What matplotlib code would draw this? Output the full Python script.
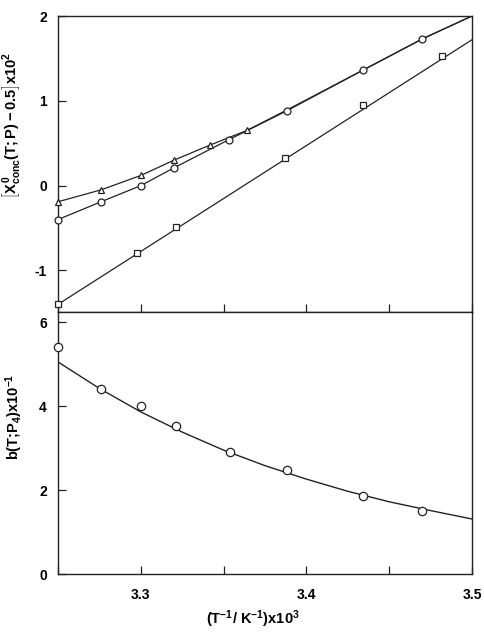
import numpy as np
import matplotlib.pyplot as plt

plt.rcParams['font.family'] = ['Liberation Sans', 'DejaVu Sans']
plt.rcParams['mathtext.fontset'] = 'custom'
plt.rcParams['mathtext.rm'] = 'Liberation Sans:bold'
plt.rcParams['mathtext.it'] = 'Liberation Sans:bold'
plt.rcParams['mathtext.bf'] = 'Liberation Sans:bold'

# upper panel: [X0conc(T;P) - 0.5] x 10^2
x_tri = [3.25, 3.276, 3.300, 3.320, 3.342, 3.364]
y_tri = [-0.19, -0.05, 0.12, 0.30, 0.48, 0.65]
# triangle line merges with circle line at high 1/T
x_tri_line = [3.25, 3.276, 3.300, 3.320, 3.342, 3.364, 3.388, 3.434, 3.470, 3.50]
y_tri_line = [-0.19, -0.05, 0.12, 0.30, 0.48, 0.65, 0.89, 1.36, 1.73, 2.00]

x_circ = [3.25, 3.276, 3.300, 3.320, 3.353, 3.388, 3.434, 3.470]
y_circ = [-0.40, -0.19, 0.00, 0.21, 0.54, 0.88, 1.36, 1.73]
x_circ_line = [3.25, 3.276, 3.300, 3.320, 3.353, 3.388, 3.434, 3.470, 3.50]
y_circ_line = [-0.40, -0.19, 0.00, 0.21, 0.54, 0.88, 1.36, 1.73, 2.00]

x_sq = [3.25, 3.298, 3.321, 3.387, 3.434, 3.482]
y_sq = [-1.40, -0.79, -0.49, 0.33, 0.95, 1.53]
x_sq_line = [3.25, 3.50]
y_sq_line = [-1.40, 1.72]

# lower panel: b(T;P4) x 10^-1
x_b = [3.25, 3.276, 3.300, 3.321, 3.354, 3.388, 3.434, 3.470]
y_b = [5.40, 4.40, 4.00, 3.52, 2.90, 2.48, 1.86, 1.50]
x_b_curve = [3.25, 3.275, 3.30, 3.325, 3.35, 3.375, 3.40, 3.425, 3.45, 3.475, 3.50]
y_b_curve = [5.05, 4.42, 3.86, 3.38, 2.95, 2.58, 2.26, 1.97, 1.72, 1.51, 1.31]

W, H = 485, 637
fig = plt.figure(figsize=(W / 100, H / 100), dpi=100)
ax1 = fig.add_axes([58 / W, (H - 312) / H, 414 / W, 296 / H])
ax2 = fig.add_axes([58 / W, (H - 574) / H, 414 / W, 262 / H])

lc = '#222222'
mk = dict(mfc='white', mec=lc, mew=0.9, ms=5, ls='none', clip_on=False, zorder=3)

ax1.plot(x_tri_line, y_tri_line, color=lc, lw=0.9)
ax1.plot(x_circ_line, y_circ_line, color=lc, lw=0.9)
ax1.plot(x_sq_line, y_sq_line, color=lc, lw=0.9)
ax1.plot(x_tri, y_tri, marker='^', **mk)
ax1.plot(x_circ, y_circ, marker='o', **mk)
ax1.plot(x_sq, y_sq, marker='s', **{**mk, 'ms': 4.5})

ax2.plot(x_b_curve, y_b_curve, color=lc, lw=1.0)
ax2.plot(x_b, y_b, marker='o', **{**mk, 'ms': 6})

for ax in (ax1, ax2):
    ax.set_xlim(3.25, 3.5)
    ax.set_xticks([3.25, 3.3, 3.35, 3.4, 3.45, 3.5])
    ax.tick_params(direction='in', length=6, width=0.9, color=lc,
                   labelsize=10, pad=8)
    for s in ax.spines.values():
        s.set_linewidth(1.0)
        s.set_color(lc)

ax1.set_ylim(-1.49, 2.0)
ax1.set_yticks([-1, 0, 1, 2])
ax1.set_yticklabels(['-1', '0', '1', '2'], fontweight='bold')
ax1.tick_params(axis='x', labelbottom=False)
ax1.set_ylabel(r'$\left[X^{0}_{conc}(T;P)-0.5\right]$x$10^{2}$',
               fontsize=10.5, fontweight='bold')
ax1.yaxis.set_label_coords(-0.088, 0.63)

ax2.set_ylim(0, 6.24)
ax2.set_yticks([0, 2, 4, 6])
ax2.set_yticklabels(['0', '2', '4', '6'], fontweight='bold')
ax2.set_xticklabels(['', '3.3', '', '3.4', '', '3.5'], fontweight='bold')
ax2.tick_params(axis='x', pad=10)
ax2.set_ylabel(r'b(T;P$_4$)x10$^{-1}$', fontsize=10.5, fontweight='bold')
ax2.yaxis.set_label_coords(-0.08, 0.6)
ax2.set_xlabel(r'(T$^{-1}$/ K$^{-1}$)x10$^{3}$', fontsize=10.5, fontweight='bold')
ax2.xaxis.set_label_coords(0.47, -0.13)

fig.savefig('out.png', dpi=100)
